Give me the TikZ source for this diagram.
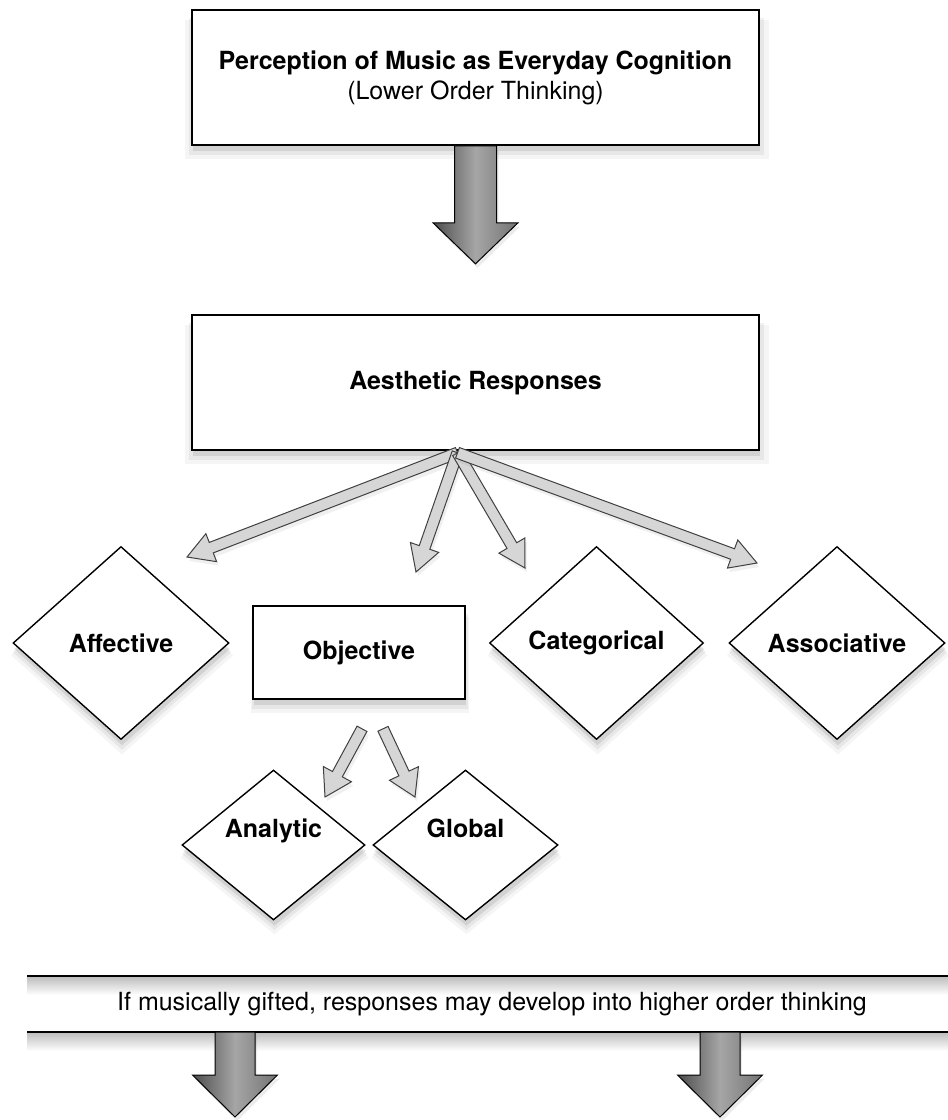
\documentclass[tikz,border=0pt]{standalone}
\usepackage{fontspec}
\setmainfont{TeX Gyre Heros}
\usetikzlibrary{shapes.geometric,shadows,calc}

% block arrow: [style]{from}{to}{shaft half width}{head half width}{head length}
\newcommand{\fatarrow}[6][]{%
  \coordinate (fa-h) at ($(#3)!#6!(#2)$);
  \path[#1] ($(#2)!#4!90:(#3)$) -- ($(fa-h)!#4!90:(#3)$) -- ($(fa-h)!#5!90:(#3)$) -- (#3)
    -- ($(fa-h)!#5!-90:(#3)$) -- ($(fa-h)!#4!-90:(#3)$) -- ($(#2)!#4!-90:(#3)$) -- cycle;}

\begin{document}
\begin{tikzpicture}[x=0.5pt,y=-0.5pt,
    softshadow/.style={
      drop shadow={shadow xshift=0.5pt,shadow yshift=-6pt,opacity=0.08,shadow scale=1.03},
      drop shadow={shadow xshift=0.5pt,shadow yshift=-4.5pt,opacity=0.12,shadow scale=1.015},
      drop shadow={shadow xshift=0.5pt,shadow yshift=-3pt,opacity=0.2}},
    box/.style={draw=black,line width=0.8pt,fill=white,softshadow,
      minimum width=283.5pt,minimum height=67.5pt,align=center,
      font=\fontsize{12.5}{15}\selectfont\bfseries},
    kind/.style={diamond,draw=black,line width=0.7pt,fill=white,softshadow,
      inner sep=0pt,minimum width=108pt,minimum height=96.5pt,
      font=\fontsize{12.5}{15}\selectfont\bfseries},
    bigarrow/.style={draw=black,line width=0.5pt,shade,left color=black!70,
      right color=black!55,middle color=black!35,
      drop shadow={shadow xshift=1pt,shadow yshift=-2pt,opacity=0.15}},
    thinarrow/.style={draw=black!75,line width=0.5pt,fill=black!16,
      drop shadow={shadow xshift=1pt,shadow yshift=-2pt,opacity=0.12}}]
    \useasboundingbox (0,0) rectangle (948,1120);
    % Top boxes
    \node[box] (percep) at (475.5,77.5) {Perception of Music as Everyday Cognition\\{\mdseries (Lower Order Thinking)}};
    \node[box] (aesth) at (475.5,382.5) {Aesthetic Responses};
    % Kinds of response
    \node[kind] (affect) at (121,643) {Affective};
    \node[box,minimum width=106pt,minimum height=46.5pt] (object) at (359,652.5) {Objective};
    \node[kind,minimum width=107pt] (categ) at (596.5,643) {Categorical};
    \node[kind] (assoc) at (837,643) {Associative};
    \node[kind,minimum width=91.5pt,minimum height=75pt,text depth=17pt] (analyt) at (273.5,845) {Analytic};
    \node[kind,minimum width=92.5pt,minimum height=75pt,text depth=17pt] (global) at (465.5,845) {Global};
    % Banner
    \shade[top color=black!25,bottom color=white] (27,977) rectangle (948,995);
    \shade[top color=black!25,bottom color=white] (27,1033) rectangle (948,1051);
    \node[minimum width=460.5pt,minimum height=28pt,font=\fontsize{12.5}{15}\selectfont] (gifted) at (492,1004)
      {If musically gifted, responses may develop into higher order thinking};
    \draw[line width=0.8pt] (27,976) -- (948,976);
    \draw[line width=0.8pt] (27,1032) -- (948,1032);
    % Arrow to aesthetic responses
    \coordinate (percepTip) at ($(percep.south)+(0,118)$);
    \fatarrow[bigarrow]{percep.south}{percepTip}{10.5pt}{21.25pt}{20.5pt}
    % Fan of responses
    \coordinate (fanRoot) at ($(aesth.south)+(-18,2)$);
    \coordinate (affectTip) at (187,557);
    \coordinate (objectTip) at (416,572);
    \coordinate (categTip) at (525,568);
    \coordinate (assocTip) at (757,563);
    \foreach \t in {affectTip,objectTip,categTip,assocTip}
      \fatarrow[thinarrow]{fanRoot}{\t}{2.8pt}{7.5pt}{13pt};
    % Objective splits
    \coordinate (analytRoot) at ($(object.south)+(3,29)$);
    \coordinate (analytTip) at (325,797);
    \coordinate (globalRoot) at ($(object.south)+(24,29)$);
    \coordinate (globalTip) at (415,797);
    \fatarrow[thinarrow]{analytRoot}{analytTip}{2.8pt}{8pt}{13pt}
    \fatarrow[thinarrow]{globalRoot}{globalTip}{2.8pt}{8pt}{13pt}
    % Arrows out of the banner
    \coordinate (leftTip) at (235,1117);
    \coordinate (leftBase) at (235,1032);
    \coordinate (rightTip) at (720,1117);
    \coordinate (rightBase) at (720,1032);
    \fatarrow[bigarrow]{leftBase}{leftTip}{10pt}{21.25pt}{21pt}
    \fatarrow[bigarrow]{rightBase}{rightTip}{10pt}{21.25pt}{21pt}
\end{tikzpicture}
\end{document}
